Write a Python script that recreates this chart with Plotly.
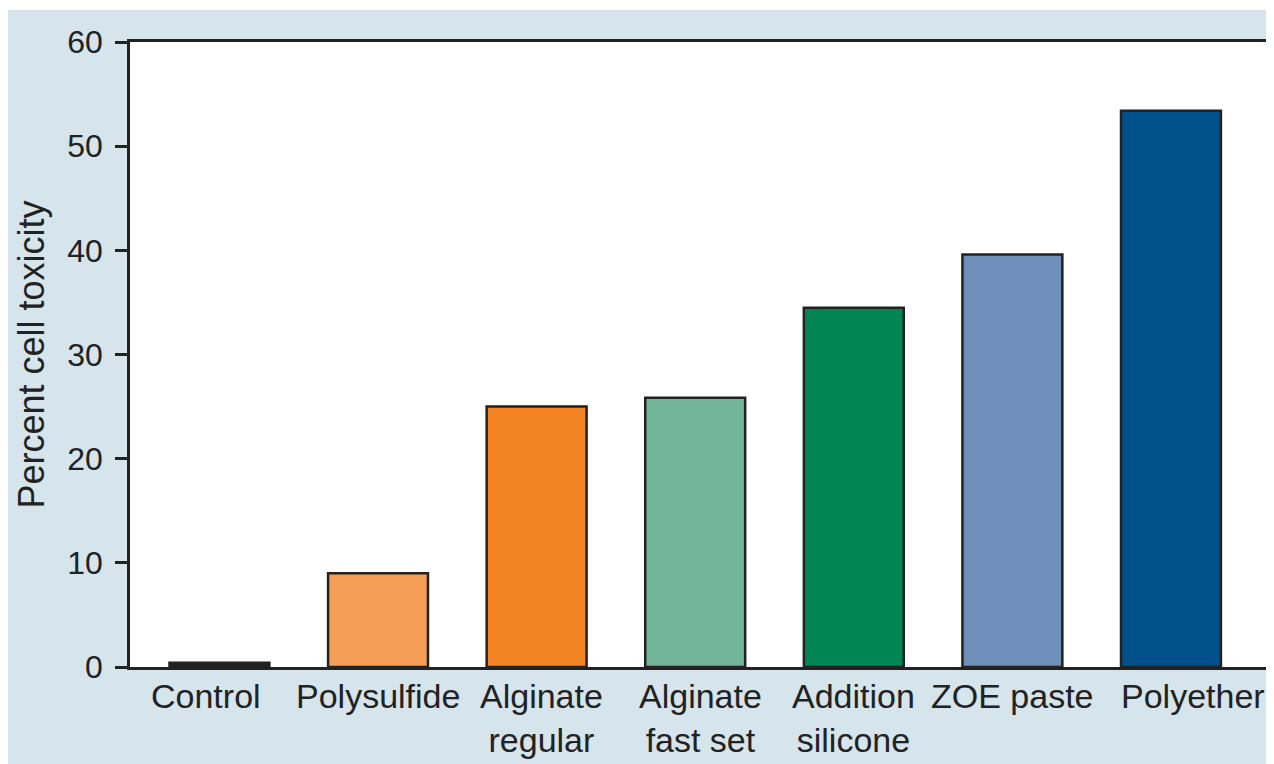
import plotly.graph_objects as go

categories = ["Control", "Polysulfide", "Alginate<br>regular", "Alginate<br>fast set",
              "Addition<br>silicone", "ZOE paste", "Polyether"]
values = [0.4, 9.0, 25.0, 25.85, 34.5, 39.6, 53.4]
colors = ["#222222", "#f59e55", "#f28424", "#73b59a", "#008553", "#6d8fba", "#00508c"]
y_ticks = [0, 10, 20, 30, 40, 50, 60]

# horizontal nudges of the category labels as placed in the original (style only)
label_shift = {"Control": -13, "Alginate<br>regular": 5, "Alginate<br>fast set": 5,
               "Polyether": 22}

# page body has an 8px margin, so the figure is sized to the remaining area
W, H = 1266, 756
L, R, T, B = 122, 2, 34, 97
pw, ph = W - L - R, H - T - B

fig = go.Figure(go.Bar(
    x=categories, y=values,
    marker=dict(color=colors, line=dict(color="#222222", width=2.5)),
    width=0.63,
))

def px_y(p):
    return (H - B - p) / ph

def px_x(p):
    return (p - L) / pw

annotations = [
    dict(x=c, y=0, xref="x", yref="y", text=c, showarrow=False,
         xanchor="center", yanchor="top", align="center",
         xshift=label_shift.get(c, 0), yshift=-8,
         font=dict(size=34, color="#222222"))
    for c in categories
]

fig.update_layout(
    width=W, height=H,
    margin=dict(l=L, r=R, t=T, b=B, autoexpand=False),
    paper_bgcolor="#d6e4ec",
    plot_bgcolor="white",
    showlegend=False,
    font=dict(family="Liberation Sans, Arial, sans-serif", color="#222222"),
    annotations=annotations,
    shapes=[
        dict(type="rect", xref="paper", yref="paper", layer="below",
             x0=px_x(0), x1=px_x(W), y0=px_y(2), y1=px_y(0),
             fillcolor="white", line=dict(width=0)),
    ],
)
fig.update_xaxes(
    type="category", range=[-0.564, 6.637], automargin=False,
    showline=True, linecolor="#222222", linewidth=2.5, mirror=True,
    ticks="", showgrid=False, showticklabels=False,
)
fig.update_yaxes(
    range=[0, 60], tickvals=y_ticks, automargin=False,
    showline=True, linecolor="#222222", linewidth=2.5, mirror=True,
    ticks="outside", ticklen=12, tickwidth=2.5, tickcolor="#222222",
    showgrid=False, zeroline=False,
    ticklabelstandoff=6,
    tickfont=dict(size=32, color="#222222"),
    title=dict(text="Percent cell toxicity", font=dict(size=36, color="#222222"), standoff=12),
)
fig.write_html("out.html")
